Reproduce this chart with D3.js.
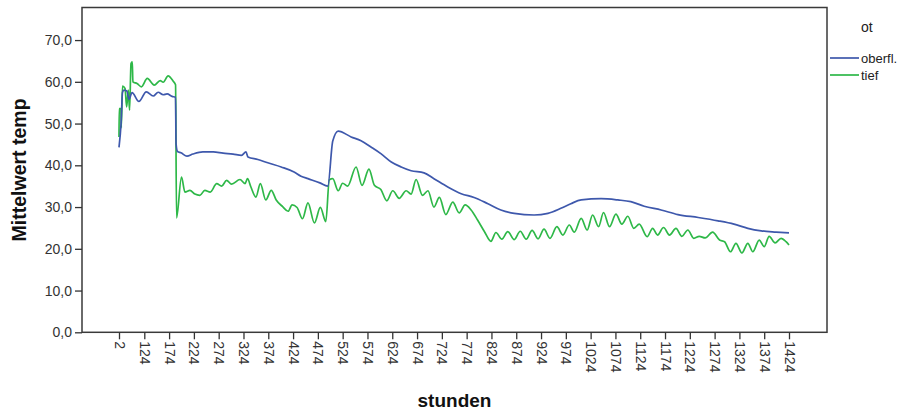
<!DOCTYPE html>
<html>
<head>
<meta charset="utf-8">
<script src="https://cdn.jsdelivr.net/npm/d3@7"></script>
<style>
  html, body { margin: 0; padding: 0; background: #fff; }
  svg { display: block; font-family: "Liberation Sans", Arial, sans-serif; }
</style>
</head>
<body>
<svg id="chart" width="904" height="414"></svg>
<script>
// Mean temperature per hour, two sensor positions
const seriesNames = ["oberfl.", "tief"];

const oberflHours = [2, 12, 19, 26, 40, 50, 65, 98, 128, 142, 152, 162, 170, 180, 187,
  188, 191, 198, 210, 222, 242, 263, 283, 303, 320, 329, 333, 353, 373, 400, 426, 440,
  454, 478, 494, 504, 515, 541, 561, 581, 601, 622, 642, 662, 688, 708, 736, 763, 789,
  817, 843, 870, 910, 938, 964, 984, 1005, 1045, 1079, 1105, 1132, 1166, 1200, 1241,
  1281, 1313, 1341, 1368, 1398, 1424];
const oberflTemp = [44.3, 50.0, 57.5, 58.0, 57.8, 55.8, 57.4, 55.3, 57.6, 56.6, 57.5, 56.9,
  57.1, 56.5, 56.3, 45.2, 43.3, 43.0, 42.2, 42.7, 43.2, 43.2, 42.9, 42.7, 42.4, 43.2, 42.0,
  41.4, 40.6, 39.6, 38.4, 37.4, 36.8, 35.8, 35.0, 45.8, 48.2, 46.8, 45.9, 44.4, 42.8, 40.8,
  39.6, 38.7, 38.2, 36.8, 34.8, 33.2, 32.3, 30.8, 29.3, 28.5, 28.1, 28.5, 29.7, 30.8, 31.7,
  32.0, 31.7, 31.3, 30.2, 29.3, 28.2, 27.5, 26.7, 25.9, 24.9, 24.3, 24.0, 23.8];

const tiefHours = [2, 3, 11, 13, 19, 31, 39, 47, 53, 60, 66, 69, 89, 110, 130, 144, 156,
  162, 172, 182, 187, 189, 199, 206, 216, 226, 236, 246, 257, 270, 280, 290, 300, 317,
  327, 332, 339, 349, 358, 369, 380, 390, 403, 414, 422, 432, 443, 454, 467, 479, 490,
  497, 504, 515, 524, 534, 551, 563, 577, 588, 601, 613, 625, 638, 652, 662, 672, 685,
  696, 708, 719, 732, 746, 759, 771, 783, 796, 810, 823, 833, 845, 857, 870, 882, 894,
  906, 918, 930, 942, 956, 968, 981, 991, 1005, 1017, 1028, 1040, 1050, 1062, 1075,
  1087, 1099, 1111, 1122, 1138, 1149, 1159, 1171, 1183, 1196, 1208, 1220, 1232, 1243,
  1255, 1270, 1284, 1294, 1306, 1317, 1329, 1341, 1351, 1364, 1374, 1384, 1396, 1408,
  1418, 1424];
const tiefTemp = [46.8, 53.6, 53.6, 49.0, 59.0, 58.4, 54.0, 58.0, 53.2, 64.4, 64.8, 60.0,
  59.6, 58.8, 60.8, 59.2, 60.3, 59.9, 61.4, 60.2, 59.3, 27.4, 37.2, 33.6, 34.0, 33.1,
  32.8, 34.0, 33.6, 35.6, 35.0, 36.4, 35.5, 36.6, 35.6, 36.8, 34.8, 32.4, 35.6, 31.7,
  34.0, 31.7, 30.1, 29.0, 30.5, 29.9, 27.2, 31.0, 26.2, 29.9, 26.5, 36.5, 36.8, 33.9,
  35.7, 35.0, 39.6, 35.2, 39.1, 35.2, 34.2, 31.5, 33.9, 32.1, 33.9, 33.1, 36.6, 32.8,
  33.9, 30.0, 32.3, 28.2, 31.2, 28.6, 30.5, 29.3, 26.9, 24.1, 21.8, 23.9, 22.3, 24.1,
  22.2, 24.2, 22.3, 24.4, 22.4, 24.7, 22.5, 25.3, 23.3, 25.7, 24.0, 27.3, 24.5, 28.1,
  25.3, 28.7, 25.3, 28.3, 25.9, 27.8, 24.9, 25.9, 22.9, 24.9, 23.3, 25.1, 23.3, 24.9,
  23.0, 24.5, 22.5, 23.0, 22.6, 24.0, 22.1, 21.7, 19.3, 21.3, 19.0, 21.3, 19.3, 22.1,
  20.5, 23.0, 21.4, 22.5, 21.7, 20.9];

const xTickHours = [2, 124, 174, 224, 274, 324, 374, 424, 474, 524, 574, 624, 674, 724,
  774, 824, 874, 924, 974, 1024, 1074, 1124, 1174, 1224, 1274, 1324, 1374, 1424];
const yTickValues = [0, 10, 20, 30, 40, 50, 60, 70];
const yAxisMax = 77.8;

const colors = ["#3e58ac", "#2eb848"];

// Layout
const frame = { left: 82, right: 827, top: 7.5, bottom: 332.3 };

const svg = d3.select("#chart");

// Category axis: the first category sits apart from the evenly spaced rest
const x = d3.scaleLinear()
  .domain([2, 124, 1424])
  .range([119, 144.3, 789]);

const y = d3.scaleLinear()
  .domain([0, yAxisMax])
  .range([frame.bottom, frame.top]);

// Plot frame
svg.append("rect")
  .attr("x", frame.left).attr("y", frame.top)
  .attr("width", frame.right - frame.left)
  .attr("height", frame.bottom - frame.top)
  .attr("fill", "none")
  .attr("stroke", "#3a3a3a")
  .attr("stroke-width", 1.5);

// Y axis
const yAxis = d3.axisLeft(y)
  .tickValues(yTickValues)
  .tickSize(7)
  .tickPadding(3)
  .tickFormat(d => d3.format(".1f")(d).replace(".", ","));

const gy = svg.append("g")
  .attr("transform", `translate(${frame.left},0)`)
  .call(yAxis);
gy.select(".domain").remove();
gy.selectAll("line").attr("stroke", "#333").attr("stroke-width", 1.3);
gy.selectAll("text")
  .attr("fill", "#333")
  .style("font-size", "14px")
  .style("font-family", "'Liberation Sans', Arial, sans-serif");

// X axis with vertical labels
const xAxis = d3.axisBottom(x)
  .tickValues(xTickHours)
  .tickSize(7)
  .tickFormat(d => String(d));

const gx = svg.append("g")
  .attr("transform", `translate(0,${frame.bottom})`)
  .call(xAxis);
gx.select(".domain").remove();
gx.selectAll("line").attr("stroke", "#333").attr("stroke-width", 1.3);
gx.selectAll("text")
  .attr("fill", "#333")
  .attr("y", 0)
  .attr("x", 9)
  .attr("dy", "0.35em")
  .attr("transform", "rotate(90)")
  .style("text-anchor", "start")
  .style("font-size", "14px")
  .style("font-family", "'Liberation Sans', Arial, sans-serif");

// Lines
const series = [
  { name: seriesNames[0], hours: oberflHours, temps: oberflTemp, color: colors[0] },
  { name: seriesNames[1], hours: tiefHours, temps: tiefTemp, color: colors[1] }
];

const line = d3.line()
  .x(d => x(d[0]))
  .y(d => y(d[1]))
  .curve(d3.curveMonotoneX);

// green underneath, blue on top
[series[1], series[0]].forEach(s => {
  svg.append("path")
    .datum(d3.zip(s.hours, s.temps))
    .attr("fill", "none")
    .attr("stroke", s.color)
    .attr("stroke-width", 1.7)
    .attr("stroke-linejoin", "round")
    .attr("d", line);
});

// Axis titles
svg.append("text")
  .attr("x", (frame.left + frame.right) / 2)
  .attr("y", 407)
  .attr("text-anchor", "middle")
  .style("font-size", "19px")
  .style("font-weight", "bold")
  .attr("fill", "#111")
  .text("stunden");

svg.append("text")
  .attr("transform", `translate(26,${(frame.top + frame.bottom) / 2}) rotate(-90)`)
  .attr("text-anchor", "middle")
  .style("font-size", "19.5px")
  .style("font-weight", "bold")
  .attr("fill", "#111")
  .text("Mittelwert temp");

// Legend
const legend = svg.append("g");
legend.append("text")
  .attr("x", 861).attr("y", 32)
  .style("font-size", "14px")
  .attr("fill", "#222")
  .text("ot");

series.forEach((s, i) => {
  const cy = 58 + i * 17;
  legend.append("line")
    .attr("x1", 830).attr("x2", 859)
    .attr("y1", cy).attr("y2", cy)
    .attr("stroke", s.color)
    .attr("stroke-width", 1.7);
  legend.append("text")
    .attr("x", 861).attr("y", cy)
    .attr("dy", "0.35em")
    .style("font-size", "13px")
    .attr("fill", "#222")
    .text(s.name);
});
</script>
</body>
</html>
